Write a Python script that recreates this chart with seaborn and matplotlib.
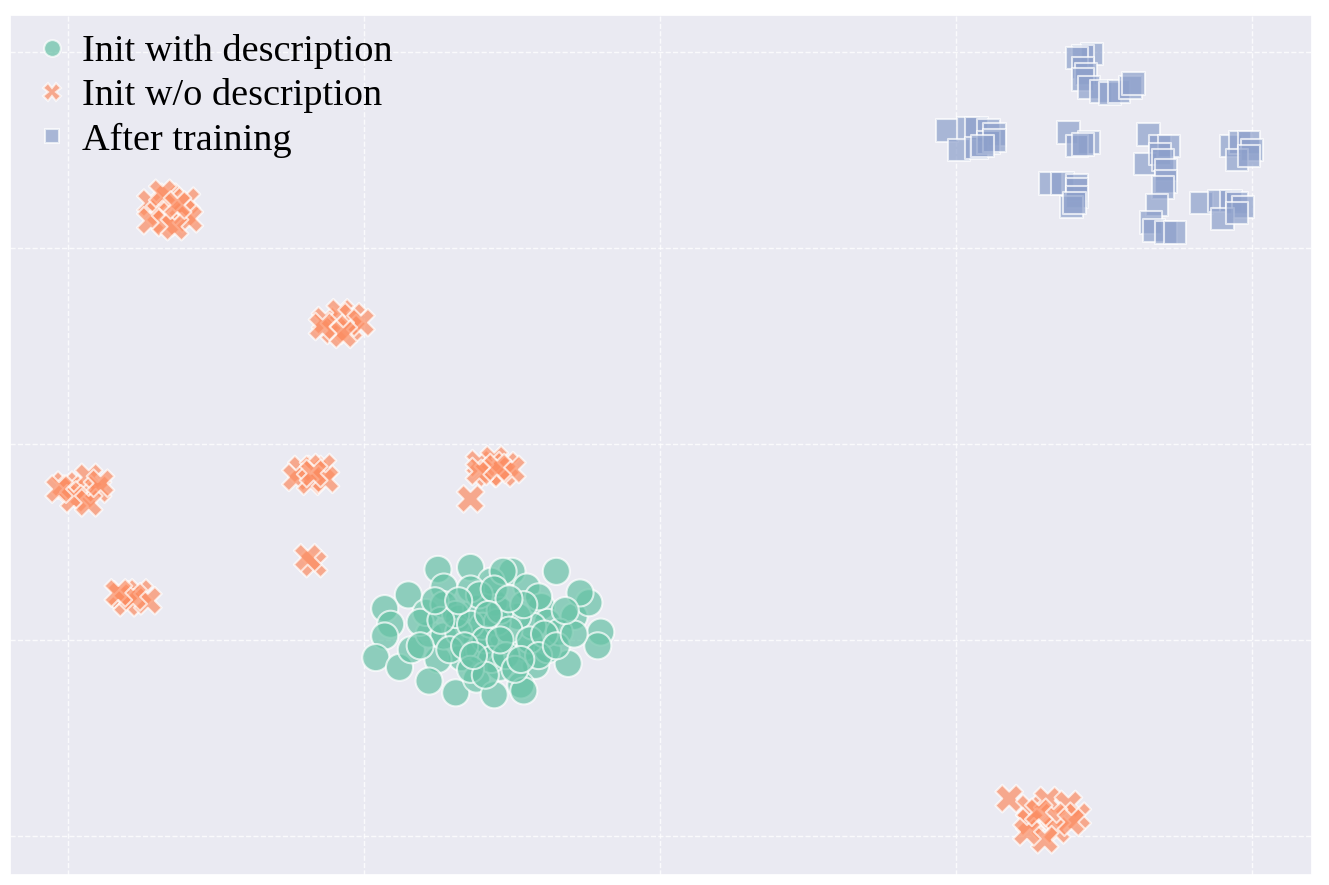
"""t-SNE style scatter: relation embeddings before and after training."""
import matplotlib
matplotlib.use("Agg")
import matplotlib.pyplot as plt
import seaborn as sns
import pandas as pd

# --- data ---
groups = ["Init with description", "Init w/o description", "After training"]

with_desc_x = [-7.5, -6.4, -5.0, -3.5, -8.5, -7.3, -9.3, -9.1, -9.3, -9.6, -8.8, -8.4,
               -7.8, -7.9, -7.3, -6.8, -5.6, -5.7, -4.5, -5.3, -4.0, -3.8, -2.9, -2.4,
               -2.7, -2.0, -2.1, -3.1, -4.2, -4.6, -5.3, -6.2, -6.7, -7.5, -7.8, -6.9,
               -6.2, -5.4, -5.6, -4.7, -4.6, -3.8, -3.4, -4.3, -4.8, -6.2, -6.4, -4.1,
               -6.1, -7.3, -8.1, -6.0, -6.8, -5.5, -6.9, -6.4, -5.9, -5.4, -5.1, -4.6,
               -7.4, -7.1, -6.6, -5.7, -5.2, -4.9, -4.4, -3.9, -7.6, -6.1, -5.6, -5.1,
               -6.8, -8.1, -6.4, -5.9, -4.1, -3.5, -2.9, -3.2, -5.4, -5.8, -6.3, -4.7]
with_desc_y = [-6.4, -6.3, -6.5, -6.5, -7.7, -7.3, -8.4, -9.2, -9.8, -10.9, -11.4, -10.5,
               -9.7, -8.6, -8.2, -8.9, -8.1, -7.0, -7.3, -6.5, -8.3, -9.1, -8.8, -8.1,
               -7.6, -9.6, -10.3, -11.2, -11.3, -10.4, -10.1, -10.0, -10.9, -11.0, -12.1, -12.7,
               -12.0, -11.4, -12.8, -12.3, -12.6, -10.5, -9.6, -9.3, -8.8, -8.4, -7.4, -7.8,
               -10.5, -9.8, -9.1, -9.3, -9.6, -9.1, -8.7, -9.2, -10.0, -8.5, -9.5, -8.2,
               -9.0, -10.5, -10.3, -11.0, -10.8, -11.5, -10.0, -9.7, -8.0, -7.7, -7.4, -7.9,
               -8.0, -10.3, -11.5, -11.8, -10.8, -10.3, -9.7, -8.5, -10.0, -8.7, -10.8, -11.0]

no_desc_x = [-17.2, -16.6, -16.0, -16.9, -16.1, -15.9, -17.2, -16.7, -16.4, -16.8, -16.3,
             -11.3, -10.8, -10.4, -11.0, -10.5, -10.1, -10.7, -11.4,
             -20.1, -19.9, -19.3, -19.5, -19.0, -19.8, -19.3, -18.9, -20.3,
             -12.1, -11.7, -11.4, -12.3, -11.8, -11.3, -11.7,
             -11.7, -11.9,
             -6.1, -5.6, -5.2, -5.8, -5.3, -6.1, -5.0, -5.5, -6.4,
             -18.2, -17.6, -18.0, -17.3, -17.8, -18.3,
             11.8, 12.5, 13.1, 13.8, 14.1, 13.3, 12.5, 13.4, 13.0, 12.4, 13.9, 12.8]
no_desc_y = [12.3, 12.6, 12.4, 11.8, 11.8, 11.5, 11.4, 11.3, 11.1, 12.8, 12.2,
             6.3, 6.7, 6.5, 5.8, 5.9, 6.2, 5.6, 6.0,
             -2.1, -2.3, -1.7, -2.6, -2.3, -2.8, -3.0, -2.0, -2.3,
             -1.3, -1.3, -1.2, -1.7, -1.9, -1.8, -1.5,
             -6.1, -5.8,
             -1.0, -0.8, -1.1, -1.5, -1.5, -1.4, -1.3, -1.2, -2.8,
             -7.7, -7.6, -8.1, -8.0, -7.8, -7.6,
             -18.1, -18.6, -18.2, -18.4, -19.0, -19.0, -19.3, -19.7, -20.2, -19.8, -19.3, -18.8]

trained_x = [14.6, 14.3, 14.1, 14.3, 14.4, 14.3, 14.5, 14.9, 15.2, 15.5, 15.9, 16.0,
             9.7, 10.4, 10.7, 11.1, 11.3, 10.1, 10.7, 11.1, 11.3, 10.9,
             13.8, 14.5, 14.1, 14.3,
             13.2, 13.6, 14.1, 14.1, 14.1, 13.9, 14.0,
             16.5, 16.9, 17.2, 16.4, 16.9, 17.0, 17.1, 17.1, 17.0, 16.8, 16.6, 16.7, 17.1, 17.4,
             19.3, 19.6, 19.9, 20.0, 19.5, 19.9,
             18.3, 18.9, 19.3, 19.5, 19.7, 19.0, 19.5]
trained_y = [19.9, 19.8, 19.7, 19.2, 18.9, 18.6, 18.2, 18.0, 17.9, 18.0, 18.2, 18.4,
             16.0, 16.1, 16.1, 16.0, 15.8, 15.0, 15.1, 15.4, 15.5, 15.2,
             15.9, 15.4, 15.2, 15.3,
             13.3, 13.3, 13.2, 13.0, 12.6, 12.1, 12.3,
             15.8, 15.2, 15.2, 14.3, 14.8, 14.5, 14.0, 13.4, 13.1, 12.2, 11.3, 10.9, 10.8, 10.8,
             15.2, 15.4, 15.4, 15.0, 14.5, 14.7,
             12.3, 12.4, 12.4, 12.3, 12.1, 11.5, 11.8]

grid_ticks = [-20, -10, 0, 10, 20]


def main():
    sns.set_theme(style="darkgrid")
    plt.rcParams["font.family"] = ["Liberation Serif", "DejaVu Serif"]

    df = pd.concat([
        pd.DataFrame({"x": with_desc_x, "y": with_desc_y, "group": groups[0]}),
        pd.DataFrame({"x": no_desc_x, "y": no_desc_y, "group": groups[1]}),
        pd.DataFrame({"x": trained_x, "y": trained_y, "group": groups[2]}),
    ], ignore_index=True)

    fig = plt.figure(figsize=(13.29, 8.85), dpi=100)
    ax = fig.add_axes([0.0075, 0.0113, 0.9797, 0.9717])
    sns.scatterplot(data=df, x="x", y="y", hue="group", style="group", size="group",
                    hue_order=groups, style_order=groups, size_order=groups,
                    markers=["o", "X", "s"], sizes={groups[0]: 380, groups[1]: 400, groups[2]: 260},
                    palette="Set2", alpha=0.7, edgecolor="white", linewidth=1.5, ax=ax)

    ax.set_xlim(-21.96, 22.03)
    ax.set_ylim(-22.0, 21.9)
    ax.set_xticks(grid_ticks)
    ax.set_yticks(grid_ticks)
    ax.set_xticklabels([])
    ax.set_yticklabels([])
    ax.tick_params(length=0)
    ax.set(xlabel="", ylabel="")
    ax.grid(True, linestyle="--", linewidth=1.0, color="white", alpha=0.8)

    handles, labels = ax.get_legend_handles_labels()
    ax.legend(handles, labels, loc="upper left", frameon=False, fontsize=27.5,
              labelcolor="black", markerscale=0.62, handlelength=1.2, handletextpad=0.18,
              labelspacing=0.24, borderpad=0.4, borderaxespad=0.1, bbox_to_anchor=(0.0, 1.0))

    fig.savefig("out.png", dpi=100, facecolor="white")
    plt.close(fig)


if __name__ == "__main__":
    main()
